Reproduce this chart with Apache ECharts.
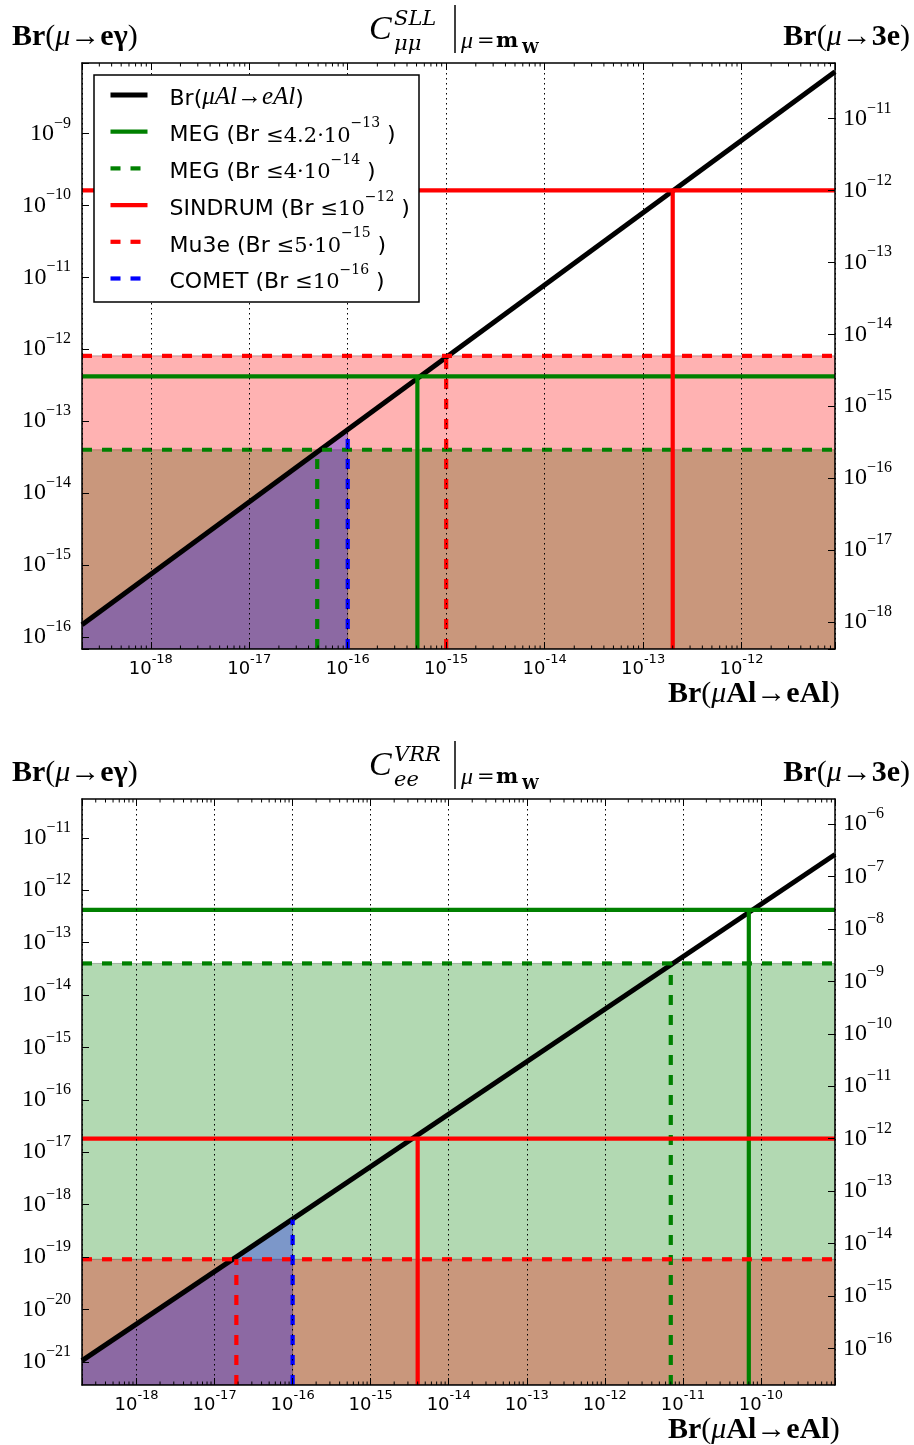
<!DOCTYPE html>
<html><head><meta charset="utf-8">
<script src="https://cdn.jsdelivr.net/npm/echarts@6/dist/echarts.min.js"></script>
<style>html,body{margin:0;padding:0;background:#fff}#c{width:914px;height:1445px}</style>
</head><body><div id="c"></div><script>
// ---------------- DATA ----------------
// Experimental limits
const MEG_LIMITS = [4.2e-13, 4e-14];     // Br(mu->e gamma): current (solid), future (dashed)
const MU3E_LIMITS = [1e-12, 5e-15];      // Br(mu->3e): SINDRUM (solid), Mu3e (dashed)
const COMET_LIMIT = 1e-16;               // Br(muAl->eAl)

// Panel 1 : C^{SLL}_{mumu}
const P1_X_EXTENT  = [2e-19, 8.9e-12];
const P1_YL_EXTENT = [6.8e-17, 9.5e-9];
const P1_YR_EXTENT = [4.2e-19, 5.9e-11];
const P1_CURVE_X   = [2e-19, 8.9e-12];
const P1_CURVE_Y   = [1.48e-16, 7.2e-9];
const P1_CROSS_X   = [5.1e-16, 4.9e-17, 2e-13, 1e-15];   // MEG, MEG future, SINDRUM, Mu3e
const P1_COMET_Y   = 7.6e-14;
const P1_X_TICKS   = [-18, -17, -16, -15, -14, -13, -12];
const P1_YL_TICKS  = [-16, -15, -14, -13, -12, -11, -10, -9];
const P1_YR_TICKS  = [-18, -17, -16, -15, -14, -13, -12, -11];

// Panel 2 : C^{VRR}_{ee}
const P2_X_EXTENT  = [2e-19, 8.9e-10];
const P2_YL_EXTENT = [3.6e-22, 5.5e-11];
const P2_YR_EXTENT = [2.0e-17, 3.0e-6];
const P2_CURVE_X   = [2e-19, 8.9e-10];
const P2_CURVE_Y   = [1.05e-21, 4.8e-12];
const P2_CROSS_X   = [7e-11, 7e-12, 4e-15, 1.9e-17];
const P2_COMET_Y   = 5.2e-19;
const P2_X_TICKS   = [-18, -17, -16, -15, -14, -13, -12, -11, -10];
const P2_YL_TICKS  = [-21, -20, -19, -18, -17, -16, -15, -14, -13, -12, -11];
const P2_YR_TICKS  = [-16, -15, -14, -13, -12, -11, -10, -9, -8, -7, -6];

const MINOR_MANTISSAS = [2, 3, 4, 5, 6, 7, 8, 9];

const NAMES = ['Br(μAl→eAl)', 'MEG (Br ≤4.2·10^-13)', 'MEG (Br ≤4·10^-14)',
               'SINDRUM (Br ≤10^-12)', 'Mu3e (Br ≤5·10^-15)', 'COMET (Br ≤10^-16)'];
const LEGEND_TEXT = [
  '{n|Br(}{i|μAl→eAl}{n|)}',
  '{n|MEG (Br }{m|≤4.2·10}{s|−13}{n| )}',
  '{n|MEG (Br }{m|≤4·10}{s|−14}{n| )}',
  '{n|SINDRUM (Br }{m|≤10}{s|−12}{n| )}',
  '{n|Mu3e (Br }{m|≤5·10}{s|−15}{n| )}',
  '{n|COMET (Br }{m|≤10}{s|−16}{n| )}'
];

// ---------------- STYLE ----------------
const SERIF = "'Liberation Serif', 'DejaVu Serif', serif";
const DSERIF = "'DejaVu Serif', serif";
const SANS = "'DejaVu Sans', sans-serif";
const GREEN = '#008000', RED = '#ff0000', BLUE = '#0000ff';
const DASH = [10, 10];
const LW = 4.2, LW_MAIN = 5;

function expOf(v) { const e = Math.log10(v); const r = Math.round(e); return Math.abs(e - r) < 1e-3 ? r : null; }

const xRich = {
  b: {fontFamily: SANS, fontSize: 18, lineHeight: 32, verticalAlign: 'middle', color: '#000'},
  s: {fontFamily: SANS, fontSize: 13, lineHeight: 13, verticalAlign: 'top', color: '#000'}
};
const yRich = {
  b: {fontFamily: SERIF, fontSize: 24, lineHeight: 36, verticalAlign: 'middle', color: '#000'},
  s: {fontFamily: SERIF, fontSize: 16, lineHeight: 16, verticalAlign: 'top', color: '#000'}
};

function baseAxis(g, ext) {
  return {
    type: 'log', logBase: 10, gridIndex: g, min: ext[0], max: ext[1], splitNumber: 7, z: 3,
    axisLine: {show: true, onZero: false, lineStyle: {color: '#000', width: 1.5}},
    axisTick: {show: true, inside: true, length: 7, lineStyle: {color: '#000', width: 1}},
    minorTick: {show: false}, minorSplitLine: {show: false},
    splitLine: {show: false}, axisLabel: {show: false}
  };
}
function bottomX(g, ext, ticks) {
  const a = baseAxis(g, ext);
  a.position = 'bottom';
  a.axisLabel = {show: true, margin: 4, rich: xRich, color: '#000',
    formatter: v => { const e = expOf(v); return (e !== null && ticks.includes(e)) ? '{b|10}{s|' + e + '}' : ''; }};
  a.splitLine = {show: true, lineStyle: {color: '#000', width: 1, type: [1.5, 3.5]}};
  return a;
}
function topX(g, ext) { const a = baseAxis(g, ext); a.position = 'top'; return a; }
function sideY(g, ext, ticks, pos, margin, custom) {
  const a = baseAxis(g, ext);
  a.position = pos;
  a.axisLabel = {show: true, margin: margin, rich: yRich, color: '#000',
    formatter: v => { const e = expOf(v); return (e !== null && ticks.includes(e)) ? '{b|10}{s|−' + (-e) + '}' : ''; }};
  if (custom) {
    const vals = ticks.map(e => Math.pow(10, e));
    a.axisLabel.customValues = vals;
    a.axisTick.customValues = vals;
  }
  return a;
}

function fillSeries(xi, yi, pts, color) {
  return {
    type: 'custom', xAxisIndex: xi, yAxisIndex: yi, z: 1, silent: true, clip: true,
    data: pts,
    renderItem: (params, api) => {
      if (params.dataIndex !== 0) return null;
      return {type: 'polygon', shape: {points: pts.map(p => api.coord(p))},
        style: {fill: color, stroke: 'rgba(0,0,0,0.25)', lineWidth: 1}};
    }
  };
}
function lineSeries(name, xi, yi, data, color, width, dashed) {
  return {
    type: 'line', name: name, xAxisIndex: xi, yAxisIndex: yi, data: data, z: 2,
    symbol: 'none', showSymbol: false, silent: true, animation: false, clip: true,
    itemStyle: {color: color},
    lineStyle: {color: color, width: width, type: dashed ? DASH : 'solid', cap: 'butt'}
  };
}
function minorTicks(xi, yi, ext, yMin) {
  const vals = [];
  for (let k = Math.floor(Math.log10(ext[0])); k <= Math.ceil(Math.log10(ext[1])); k++) {
    MINOR_MANTISSAS.forEach(m => { const v = m * Math.pow(10, k); if (v > ext[0] && v < ext[1]) vals.push([v, yMin]); });
  }
  return {
    type: 'custom', xAxisIndex: xi, yAxisIndex: yi, z: 3, silent: true, clip: false, data: vals,
    renderItem: (params, api) => {
      const p = api.coord([api.value(0), api.value(1)]);
      const cs = params.coordSys;
      const top = cs.y, bot = cs.y + cs.height;
      return {type: 'group', children: [
        {type: 'line', shape: {x1: p[0], y1: bot, x2: p[0], y2: bot - 3.5}, style: {stroke: '#000', lineWidth: 1}},
        {type: 'line', shape: {x1: p[0], y1: top, x2: p[0], y2: top + 3.5}, style: {stroke: '#000', lineWidth: 1}}
      ]};
    }
  };
}

function panelSeries(xi, yl, yr, xExt, ylExt, yrExt, curveX, curveY, crossX, cometY) {
  const x0 = xExt[0], x1 = xExt[1], yl0 = ylExt[0], yr0 = yrExt[0];
  return [
    fillSeries(xi, yl, [[x0, yl0], [x1, yl0], [x1, MEG_LIMITS[1]], [x0, MEG_LIMITS[1]]], 'rgba(0,128,0,0.3)'),
    fillSeries(xi, yr, [[x0, yr0], [x1, yr0], [x1, MU3E_LIMITS[1]], [x0, MU3E_LIMITS[1]]], 'rgba(255,0,0,0.3)'),
    fillSeries(xi, yl, [[curveX[0], yl0], [curveX[0], curveY[0]], [COMET_LIMIT, cometY], [COMET_LIMIT, yl0]], 'rgba(0,0,255,0.3)'),
    lineSeries(NAMES[0], xi, yl, [[curveX[0], curveY[0]], [curveX[1], curveY[1]]], '#000', LW_MAIN, false),
    lineSeries(NAMES[1], xi, yl, [[x0, MEG_LIMITS[0]], [x1, MEG_LIMITS[0]]], GREEN, LW, false),
    lineSeries(NAMES[1], xi, yl, [[crossX[0], yl0], [crossX[0], MEG_LIMITS[0]]], GREEN, LW, false),
    lineSeries(NAMES[2], xi, yl, [[x0, MEG_LIMITS[1]], [x1, MEG_LIMITS[1]]], GREEN, LW, true),
    lineSeries(NAMES[2], xi, yl, [[crossX[1], yl0], [crossX[1], MEG_LIMITS[1]]], GREEN, LW, true),
    lineSeries(NAMES[3], xi, yr, [[x0, MU3E_LIMITS[0]], [x1, MU3E_LIMITS[0]]], RED, LW, false),
    lineSeries(NAMES[3], xi, yr, [[crossX[2], yr0], [crossX[2], MU3E_LIMITS[0]]], RED, LW, false),
    lineSeries(NAMES[4], xi, yr, [[x0, MU3E_LIMITS[1]], [x1, MU3E_LIMITS[1]]], RED, LW, true),
    lineSeries(NAMES[4], xi, yr, [[crossX[3], yr0], [crossX[3], MU3E_LIMITS[1]]], RED, LW, true),
    lineSeries(NAMES[5], xi, yl, [[COMET_LIMIT, yl0], [COMET_LIMIT, cometY]], BLUE, LW, true),
    minorTicks(xi, yl, xExt, yl0)
  ];
}

// ---------------- TEXT ----------------
const AX = {
  B: {fontFamily: SERIF, fontWeight: 'bold', fontSize: 30, fill: '#000'},
  P: {fontFamily: SERIF, fontSize: 30, fill: '#000'},
  I: {fontFamily: SERIF, fontStyle: 'italic', fontSize: 30, fill: '#000'}
};
const TI = {
  C: {fontFamily: SERIF, fontStyle: 'italic', fontSize: 34, fill: '#000'},
  S: {fontFamily: DSERIF, fontStyle: 'italic', fontSize: 21, fill: '#000'},
  i: {fontFamily: SERIF, fontStyle: 'italic', fontSize: 24, fill: '#000'},
  n: {fontFamily: DSERIF, fontSize: 21, fill: '#000'},
  b: {fontFamily: DSERIF, fontWeight: 'bold', fontSize: 21, fill: '#000'},
  w: {fontFamily: DSERIF, fontWeight: 'bold', fontSize: 15, fill: '#000'}
};
function txt(x, y, text, rich, align) {
  return {type: 'text', x: x, y: y, z: 10, silent: true,
    style: {text: text, rich: rich, align: align || 'left', verticalAlign: 'middle', fill: '#000'}};
}
function panelTexts(dy, sup, sub) {
  return [
    txt(12, 37 + dy, '{B|Br}{P|(}{I|μ}{P|→}{B|eγ}{P|)}', AX, 'left'),
    txt(910, 37 + dy, '{B|Br}{P|(}{I|μ}{P|→}{B|3e}{P|)}', AX, 'right'),
    txt(668, 694 + dy, '{B|Br}{P|(}{I|μ}{B|Al}{P|→}{B|eAl}{P|)}', AX, 'left'),
    txt(369, 30 + dy, '{C|C}', TI, 'left'),
    txt(394, 20 + dy, '{S|' + sup + '}', TI, 'left'),
    txt(394, 45 + dy, '{S|' + sub + '}', TI, 'left'),
    {type: 'line', z: 10, silent: true, shape: {x1: 455, y1: 5 + dy, x2: 455, y2: 53 + dy}, style: {stroke: '#000', lineWidth: 1.5}},
    txt(461, 42 + dy, '{i|μ}', TI, 'left'),
    txt(477, 42 + dy, '{n|=}', TI, 'left'),
    txt(496, 42 + dy, '{b|m}', TI, 'left'),
    txt(522, 49 + dy, '{w|W}', TI, 'left')
  ];
}

const option = {
  animation: false,
  backgroundColor: '#fff',
  textStyle: {fontFamily: SANS},
  grid: [
    {left: 82, top: 63, width: 753, height: 586, outerBoundsMode: 'none', containLabel: false},
    {left: 82, top: 799, width: 753, height: 586, outerBoundsMode: 'none', containLabel: false}
  ],
  xAxis: [
    bottomX(0, P1_X_EXTENT, P1_X_TICKS), topX(0, P1_X_EXTENT),
    bottomX(1, P2_X_EXTENT, P2_X_TICKS), topX(1, P2_X_EXTENT)
  ],
  yAxis: [
    sideY(0, P1_YL_EXTENT, P1_YL_TICKS, 'left', 11, false), sideY(0, P1_YR_EXTENT, P1_YR_TICKS, 'right', 8, false),
    sideY(1, P2_YL_EXTENT, P2_YL_TICKS, 'left', 11, true), sideY(1, P2_YR_EXTENT, P2_YR_TICKS, 'right', 8, true)
  ],
  legend: {
    show: true, z: 20, orient: 'vertical', left: 108, top: 85, padding: 0,
    itemWidth: 37, itemHeight: 14, itemGap: 6.7, selectedMode: false,
    data: NAMES,
    itemStyle: {opacity: 0, borderWidth: 0},
    lineStyle: {width: 'inherit', type: 'inherit'},
    formatter: name => LEGEND_TEXT[NAMES.indexOf(name)],
    textStyle: {
      padding: [0, 0, 0, 17], color: '#000', fontFamily: SANS, fontSize: 22,
      rich: {
        n: {fontFamily: SANS, fontSize: 22, lineHeight: 30, verticalAlign: 'bottom', color: '#000'},
        i: {fontFamily: SERIF, fontStyle: 'italic', fontSize: 25, lineHeight: 30, verticalAlign: 'bottom', color: '#000'},
        m: {fontFamily: DSERIF, fontSize: 21, lineHeight: 30, verticalAlign: 'bottom', color: '#000'},
        s: {fontFamily: DSERIF, fontSize: 14, lineHeight: 16, verticalAlign: 'top', color: '#000'}
      }
    }
  },
  graphic: {elements: [
    {type: 'rect', z: 15, silent: true, shape: {x: 94, y: 75, width: 325, height: 227},
      style: {fill: '#fff', stroke: '#000', lineWidth: 1.5}}
  ].concat(panelTexts(0, 'SLL', 'μμ'), panelTexts(736, 'VRR', 'ee'))},
  series: [].concat(
    panelSeries(0, 0, 1, P1_X_EXTENT, P1_YL_EXTENT, P1_YR_EXTENT, P1_CURVE_X, P1_CURVE_Y, P1_CROSS_X, P1_COMET_Y),
    panelSeries(2, 2, 3, P2_X_EXTENT, P2_YL_EXTENT, P2_YR_EXTENT, P2_CURVE_X, P2_CURVE_Y, P2_CROSS_X, P2_COMET_Y)
  )
};
const chart = echarts.init(document.getElementById('c'), null, {renderer: 'canvas'});
chart.setOption(option);
</script></body></html>
